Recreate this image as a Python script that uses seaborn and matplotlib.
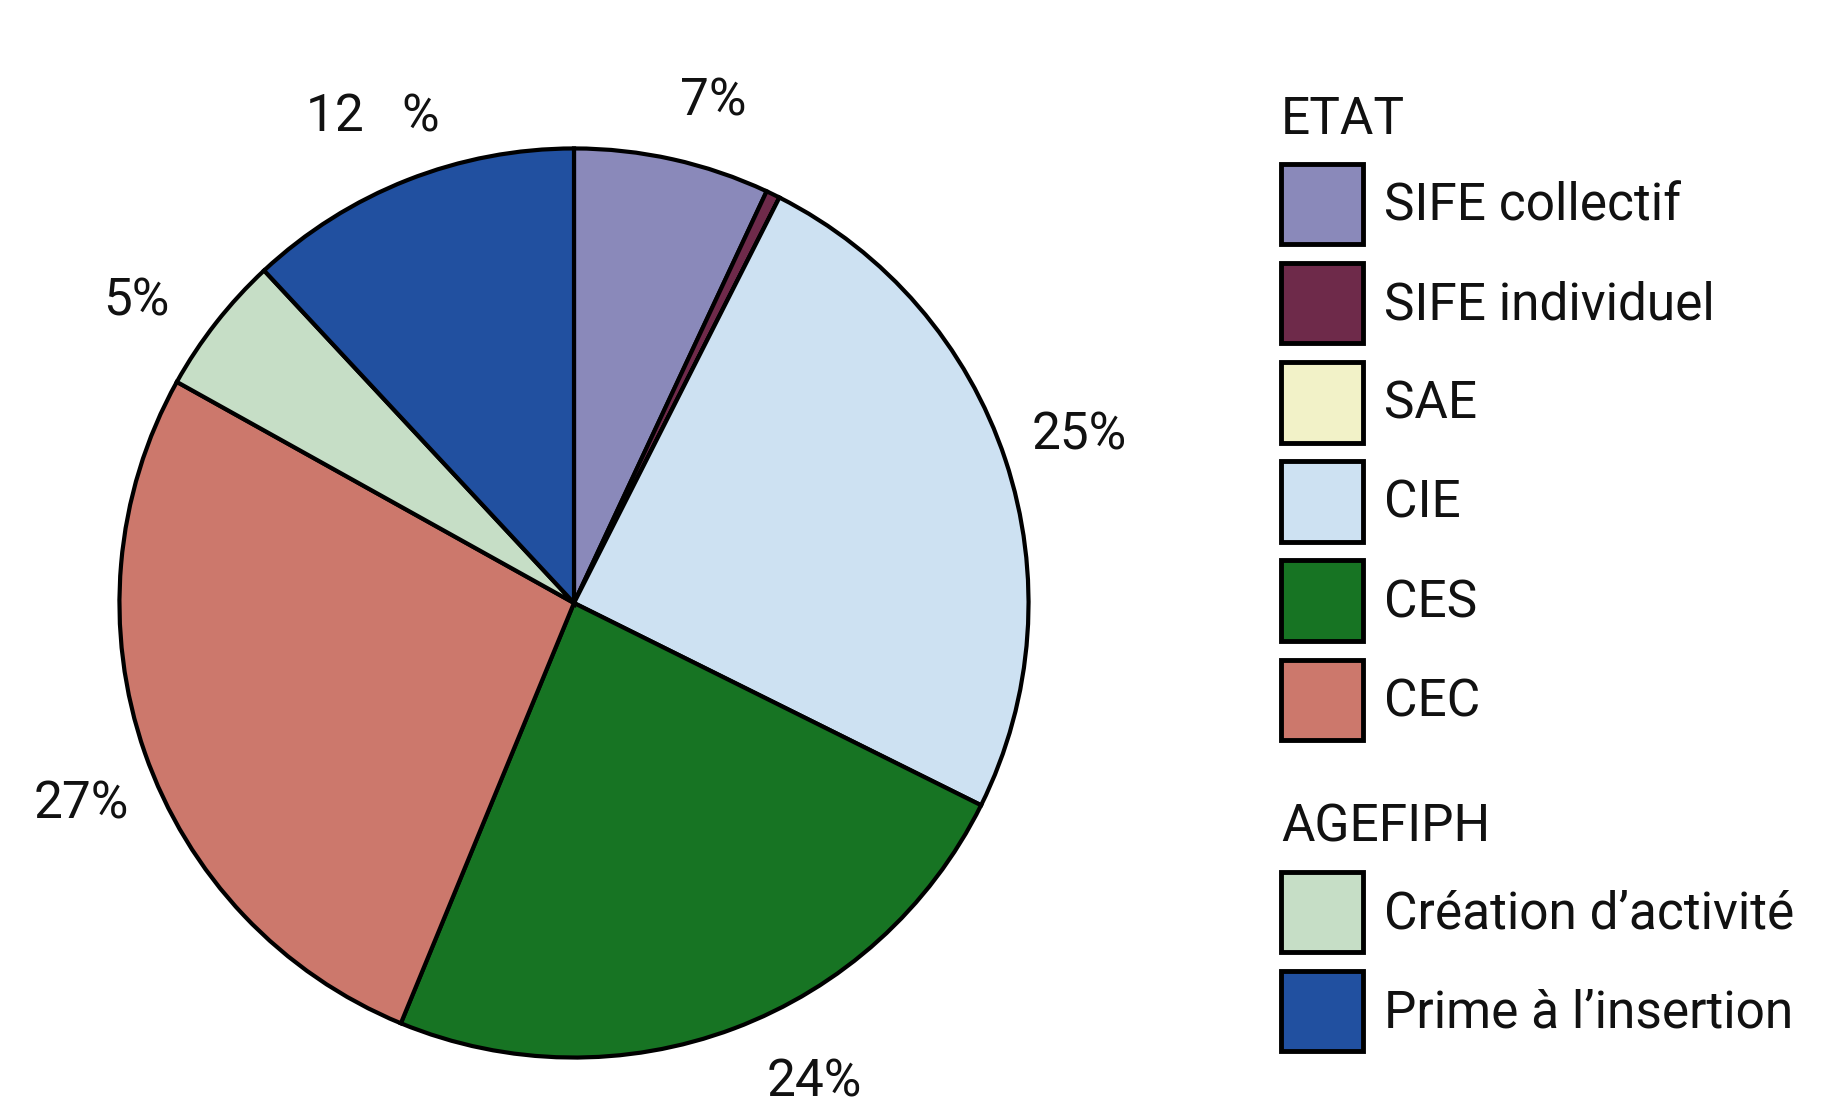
import numpy as np
import matplotlib
matplotlib.use("Agg")
import matplotlib.pyplot as plt
import matplotlib.patches as mpatches
import seaborn as sns

# ---- data ----
categories = ["SIFE collectif", "SIFE individuel", "SAE", "CIE", "CES", "CEC",
              "Création d\u2019activité", "Prime à l\u2019insertion"]
values = [7, 0.5, 0, 25, 24, 27, 5, 12]
value_labels = ["7%", "", "", "25%", "24%", "27%", "5%", "12   %"]
colors = ["#8A89BA", "#6E2A4A", "#F2F2C8", "#CDE1F2", "#177423", "#CC786C",
          "#C6DEC6", "#2150A0"]
group_etat = ["SIFE collectif", "SIFE individuel", "SAE", "CIE", "CES", "CEC"]
group_agefiph = ["Création d\u2019activité", "Prime à l\u2019insertion"]

sns.set_theme(style="white")
plt.rcParams["font.family"] = ["Roboto", "DejaVu Sans"]

W, H = 1837, 1111
fig = plt.figure(figsize=(W / 100, H / 100), dpi=100)
fig.patch.set_facecolor("white")

# square axes, pie centred at (574, 603) px, radius ~455 px
size = 1000
cx, cy = 574, 603
ax = fig.add_axes([(cx - size / 2) / W, (H - cy - size / 2) / H, size / W, size / H])
wedges, _ = ax.pie(values, colors=colors, startangle=90, counterclock=False,
                   radius=1.0,
                   wedgeprops=dict(edgecolor="black", linewidth=3.0))
ax.set_xlim(-1.1, 1.1)
ax.set_ylim(-1.1, 1.1)
ax.set_aspect("equal")
ax.axis("off")

fs = 37
# label placement tweaks (degrees, radial distance)
ang_shift = [-3, 0, 0, 0, 6, 3, 3.5, 1]
dist = [1.145, 1.17, 1.17, 1.17, 1.18, 1.17, 1.17, 1.156]
for w, lab, sh, d in zip(wedges, value_labels, ang_shift, dist):
    if not lab:
        continue
    ang = np.deg2rad((w.theta1 + w.theta2) / 2 + sh)
    ax.text(d * np.cos(ang), d * np.sin(ang), lab, ha="center", va="center",
            fontsize=fs, color="#111111", clip_on=False)

cmap = dict(zip(categories, colors))

def handles(names):
    return [mpatches.Patch(facecolor=cmap[n], edgecolor="black", linewidth=3.5, label=n)
            for n in names]

common = dict(loc="upper left", frameon=False, fontsize=fs, title_fontsize=fs,
              handlelength=1.6, handleheight=2.04, handletextpad=0.4,
              labelspacing=0.36, borderpad=0, borderaxespad=0, alignment="left")

leg1 = fig.legend(handles=handles(group_etat), title="ETAT",
                  bbox_to_anchor=(1281 / W, 1 - 95 / H), **common)
leg2 = fig.legend(handles=handles(group_agefiph), title="AGEFIPH",
                  bbox_to_anchor=(1281 / W, 1 - 803 / H), **common)
for leg in (leg1, leg2):
    leg.get_title().set_color("#111111")
    for t in leg.get_texts():
        t.set_color("#111111")

fig.savefig("out.png", dpi=100, facecolor="white")
